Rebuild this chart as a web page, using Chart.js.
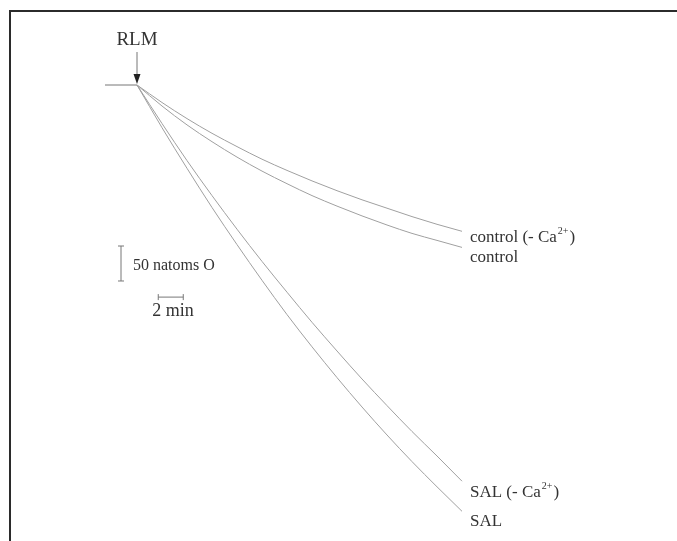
<!DOCTYPE html>
<html>
<head>
<meta charset="utf-8">
<script src="https://cdn.jsdelivr.net/npm/chart.js@4"></script>
<style>
  html, body { margin: 0; padding: 0; background: #fff; }
  #wrap { width: 677px; height: 541px; position: relative; }
</style>
</head>
<body>
<div id="wrap"><canvas id="trace"></canvas></div>
<script>
// time (min) after RLM addition, O consumed (natoms O)
const minutes = [0, 2, 4, 6, 8, 10, 12, 14, 16, 18, 20, 22, 24, 26];
const controlNoCa = [0, 25, 48, 69, 88, 106, 122, 137, 151, 164, 176, 188, 199, 209];
const control = [0, 30, 57, 81, 103, 123, 141, 158, 173, 187, 200, 212, 222, 232];
const salNoCa = [0, 55, 108, 158, 206, 252, 296, 339, 380, 420, 458, 495, 530, 566];
const sal = [0, 61, 119, 175, 228, 279, 328, 374, 418, 460, 500, 538, 574, 609];

const seriesNames = ["control (- Ca", "control", "SAL (- Ca", "SAL"];
const superscripts = ["2+", "", "2+", ""];

const lineGray = "#a0a0a0";
const textColor = "#333333";
const serif = "'Liberation Serif', 'DejaVu Serif', serif";

function pts(ys) {
    return minutes.map((t, i) => ({ x: t, y: ys[i] }));
}

const traceExtras = {
    id: "traceExtras",
    afterDraw(chart) {
        const ctx = chart.ctx;
        const x = chart.scales.x;
        const y = chart.scales.y;
        ctx.save();

        // frame (top and left only)
        ctx.strokeStyle = "#2b2b2b";
        ctx.lineWidth = 2;
        ctx.beginPath();
        ctx.moveTo(10, 541);
        ctx.lineTo(10, 11);
        ctx.lineTo(677, 11);
        ctx.stroke();

        // baseline and RLM arrow
        const x0 = x.getPixelForValue(0);
        const y0 = y.getPixelForValue(0);
        ctx.strokeStyle = "#777";
        ctx.lineWidth = 1;
        ctx.beginPath();
        ctx.moveTo(x0 - 32, y0);
        ctx.lineTo(x0, y0);
        ctx.moveTo(x0, y0 - 33);
        ctx.lineTo(x0, y0 - 9);
        ctx.stroke();
        ctx.fillStyle = "#222";
        ctx.beginPath();
        ctx.moveTo(x0 - 3.5, y0 - 11);
        ctx.lineTo(x0 + 3.5, y0 - 11);
        ctx.lineTo(x0, y0 - 1);
        ctx.closePath();
        ctx.fill();

        ctx.fillStyle = textColor;
        ctx.font = "19px " + serif;
        ctx.textAlign = "center";
        ctx.textBaseline = "alphabetic";
        ctx.fillText("RLM", x0, y0 - 40);

        // curve labels
        ctx.textAlign = "left";
        const ends = [controlNoCa, control, salNoCa, sal];
        const offsets = [11, 15, 16, 15];
        ends.forEach((ys, i) => {
            const px = x.getPixelForValue(minutes[minutes.length - 1]) + 8;
            const py = y.getPixelForValue(ys[ys.length - 1]) + offsets[i];
            ctx.font = "17px " + serif;
            ctx.fillText(seriesNames[i], px, py);
            if (superscripts[i]) {
                let w = ctx.measureText(seriesNames[i]).width;
                ctx.font = "10px " + serif;
                ctx.fillText(superscripts[i], px + w + 1, py - 8);
                w += ctx.measureText(superscripts[i]).width + 2;
                ctx.font = "17px " + serif;
                ctx.fillText(")", px + w, py);
            }
        });

        // scale bars
        ctx.strokeStyle = "#777";
        ctx.lineWidth = 1;
        const bx = x.getPixelForValue(-1.28);
        const by1 = y.getPixelForValue(230);
        const by2 = y.getPixelForValue(280);
        ctx.beginPath();
        ctx.moveTo(bx, by1); ctx.lineTo(bx, by2);
        ctx.moveTo(bx - 3, by1); ctx.lineTo(bx + 3, by1);
        ctx.moveTo(bx - 3, by2); ctx.lineTo(bx + 3, by2);
        const hx1 = x.getPixelForValue(1.7);
        const hx2 = x.getPixelForValue(3.7);
        const hy = y.getPixelForValue(303);
        ctx.moveTo(hx1, hy); ctx.lineTo(hx2, hy);
        ctx.moveTo(hx1, hy - 3); ctx.lineTo(hx1, hy + 3);
        ctx.moveTo(hx2, hy - 3); ctx.lineTo(hx2, hy + 3);
        ctx.stroke();

        ctx.font = "16px " + serif;
        ctx.fillText("50 natoms O", bx + 12, (by1 + by2) / 2 + 6);
        ctx.font = "18px " + serif;
        ctx.fillText("2 min", hx1 - 6, hy + 19);

        ctx.restore();
    },
};

new Chart(document.getElementById("trace"), {
    type: "scatter",
    data: {
        datasets: [controlNoCa, control, salNoCa, sal].map((ys, i) => ({
            label: seriesNames[i],
            data: pts(ys),
            showLine: true,
            borderColor: lineGray,
            borderWidth: 1,
            pointRadius: 0,
            cubicInterpolationMode: "monotone",
        })),
    },
    options: {
        responsive: true,
        maintainAspectRatio: false,
        animation: false,
        layout: { padding: 0 },
        plugins: { legend: { display: false }, tooltip: { enabled: false } },
        scales: {
            x: { type: "linear", display: false, min: -10.96, max: 43.2 },
            y: { type: "linear", display: false, reverse: true, min: -121.43, max: 651.43 },
        },
    },
    plugins: [traceExtras],
});
</script>
</body>
</html>
